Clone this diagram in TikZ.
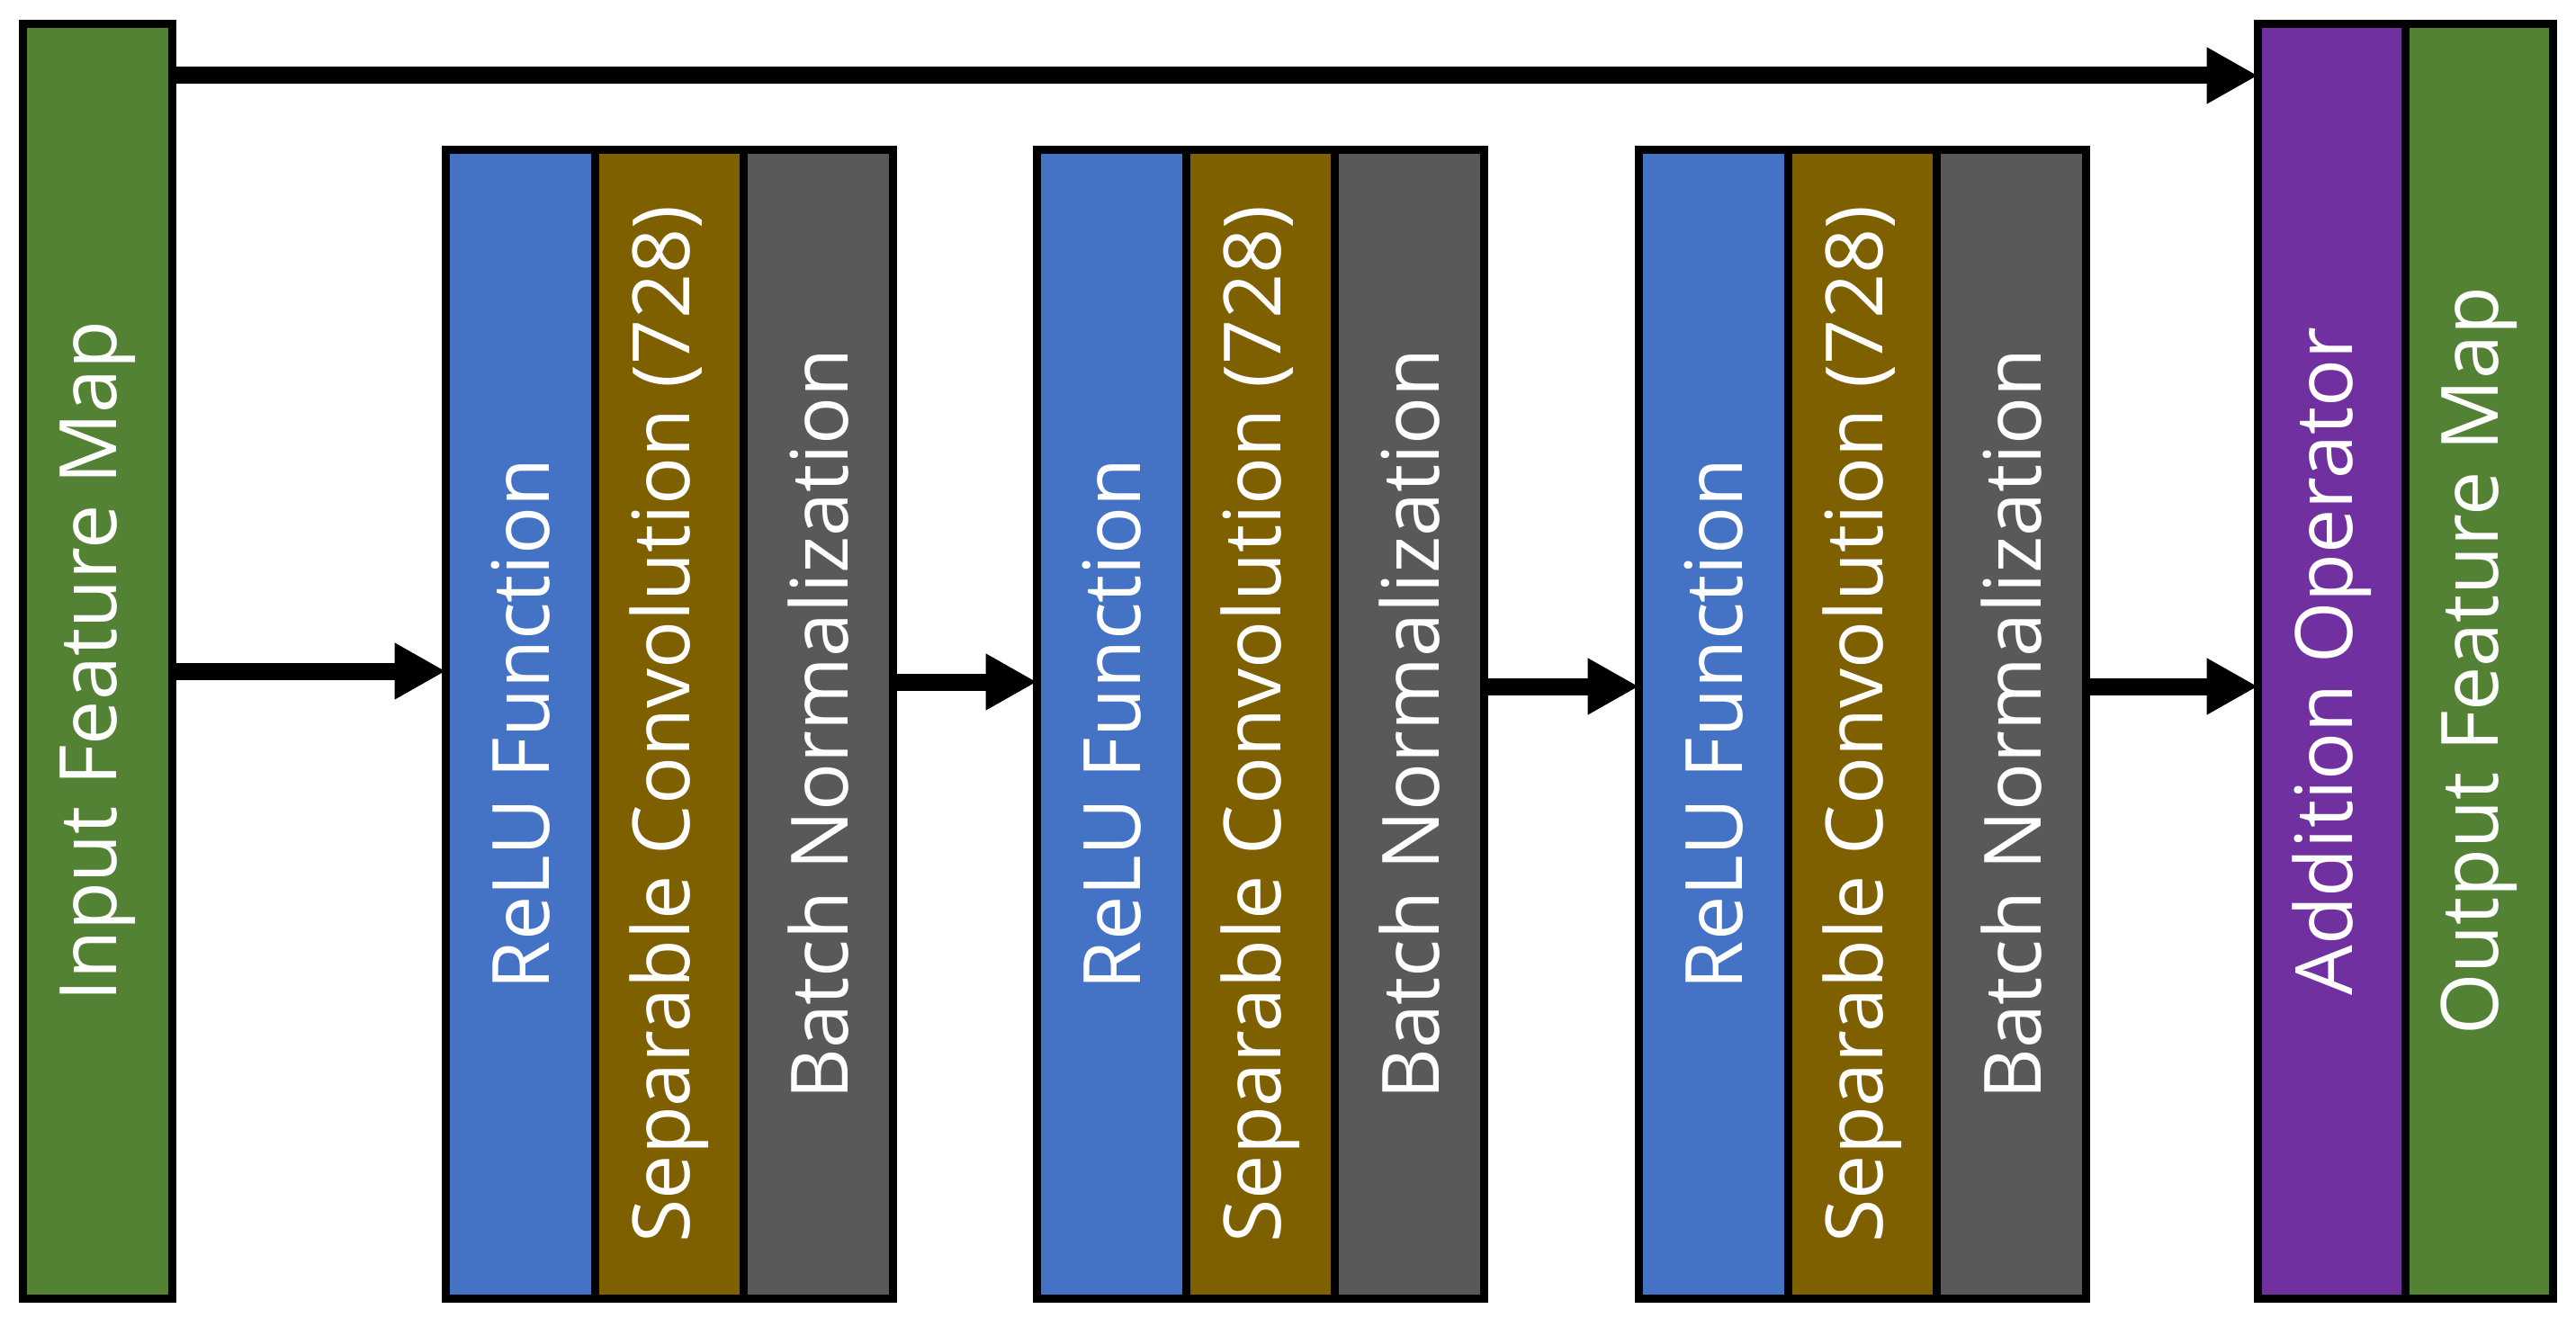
\documentclass[tikz,border=0pt]{standalone}
\usepackage{fontspec}
\setmainfont{Open Sans}
\usepackage{graphicx}
\usepackage{tikz}
\usetikzlibrary{arrows.meta}
\usetikzlibrary{positioning}
\definecolor{mapgreen}{HTML}{548235}
\definecolor{relublue}{HTML}{4472C4}
\definecolor{convbrown}{HTML}{7F6000}
\definecolor{normgray}{HTML}{595959}
\definecolor{addpurple}{HTML}{7030A0}
\tikzset{>={Triangle[length=5.7mm, width=5.9mm]}}
\tikzset{layer/.style = {draw=black, line width=2.6pt, text=white, inner sep=0, outer sep=0, minimum width=1.657cm, font=\fontsize{25}{30}\selectfont}}
\tikzset{tall/.style = {layer, minimum height=14.17cm}}
\tikzset{short/.style = {layer, minimum height=12.77cm}}
\tikzset{flow/.style = {->, line width=0.19cm}}

\begin{document}
\begin{tikzpicture}
\useasboundingbox (0, 0) rectangle (28.63, 14.74);
\node [tall, fill=mapgreen] (in) at (1.085, 7.39) {\rotatebox{90}{Input Feature Map}};
\node [short, fill=relublue] (r1) at (5.7835, 6.69) {\rotatebox{90}{ReLU Function}};
\node [short, fill=convbrown, right=0 of r1] (s1) {\rotatebox{90}{Separable Convolution (728)}};
\node [short, fill=normgray, right=0 of s1] (n1) {\rotatebox{90}{Batch Normalization}};
\node [short, fill=relublue] (r2) at (12.3535, 6.69) {\rotatebox{90}{ReLU Function}};
\node [short, fill=convbrown, right=0 of r2] (s2) {\rotatebox{90}{Separable Convolution (728)}};
\node [short, fill=normgray, right=0 of s2] (n2) {\rotatebox{90}{Batch Normalization}};
\node [short, fill=relublue] (r3) at (19.0435, 6.69) {\rotatebox{90}{ReLU Function}};
\node [short, fill=convbrown, right=0 of r3] (s3) {\rotatebox{90}{Separable Convolution (728)}};
\node [short, fill=normgray, right=0 of s3] (n3) {\rotatebox{90}{Batch Normalization}};
\node [tall, fill=addpurple, minimum width=1.64cm] (add) at (25.915, 7.39) {\rotatebox{90}{Addition Operator}};
\node [tall, fill=mapgreen, minimum width=1.64cm, right=0 of add] (out) {\rotatebox{90}{Output Feature Map}};
\draw [flow] (in.east |- 0, 13.9) to (add.west |- 0, 13.9);
\draw [flow] (in.east |- 0, 7.28) to (r1.west |- 0, 7.28);
\draw [flow] (n1.east |- 0, 7.16) to (r2.west |- 0, 7.16);
\draw [flow] (n2.east |- 0, 7.11) to (r3.west |- 0, 7.11);
\draw [flow] (n3.east |- 0, 7.11) to (add.west |- 0, 7.11);
\end{tikzpicture}
\end{document}
